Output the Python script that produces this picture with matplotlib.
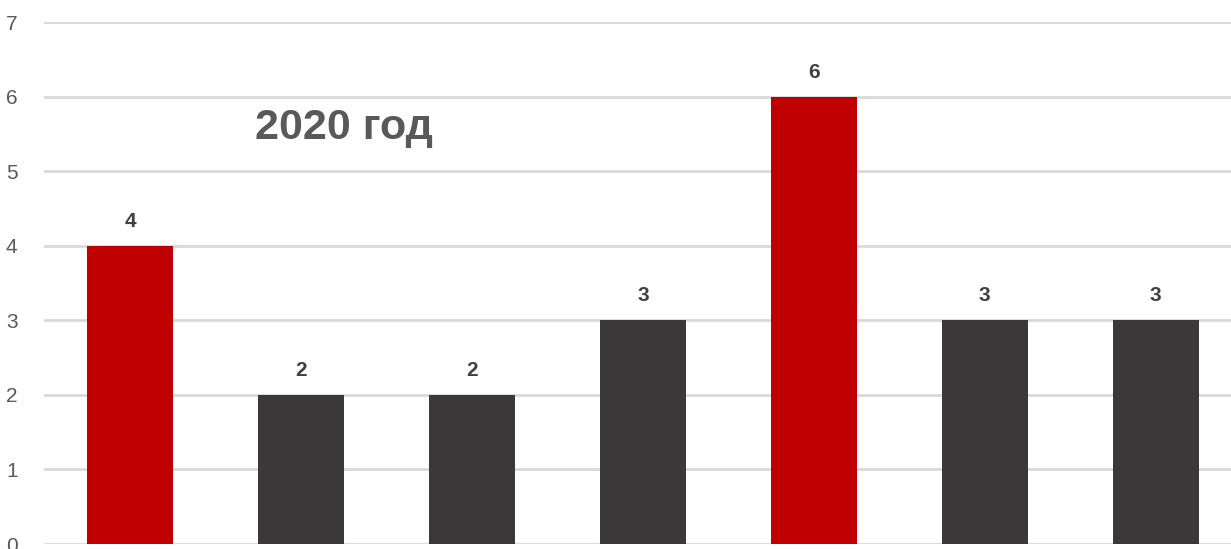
import matplotlib.pyplot as plt

# data
categories = ["1", "2", "3", "4", "5", "6", "7"]
values = [4, 2, 2, 3, 6, 3, 3]
highlight = [True, False, False, False, True, False, False]
y_ticks = [0, 1, 2, 3, 4, 5, 6, 7]

RED = "#C00000"
DARK = "#3A3839"
GRID = "#D9D9D9"

plt.rcParams["font.family"] = ["Liberation Sans", "DejaVu Sans"]

fig = plt.figure(figsize=(12.31, 5.49), dpi=100)
ax = fig.add_axes([44 / 1231, 1 - 544 / 549, 1 - 44 / 1231, (544 - 22) / 549])

x = list(range(len(categories)))
colors = [RED if h else DARK for h in highlight]
bars = ax.bar(x, values, width=0.5, color=colors, zorder=3)

for xi, v in zip(x, values):
    ax.text(xi, v + 0.2, str(v), ha="center", va="bottom",
            fontsize=15, fontweight="bold", color="#404040")

ax.text(0.73, 5.58, "2020 год", ha="left", va="center",
        fontsize=31, fontweight="bold", color="#595959")

ax.set_xlim(-0.503, 6.44)
ax.set_ylim(0, 7)
ax.set_yticks(y_ticks)
ax.set_xticks([])
ax.yaxis.grid(True, color=GRID, linewidth=2, zorder=0)
ax.tick_params(axis="y", length=0, pad=19, labelsize=15, labelcolor="#595959")
for s in ax.spines.values():
    s.set_visible(False)

fig.savefig("out.png", dpi=100)
